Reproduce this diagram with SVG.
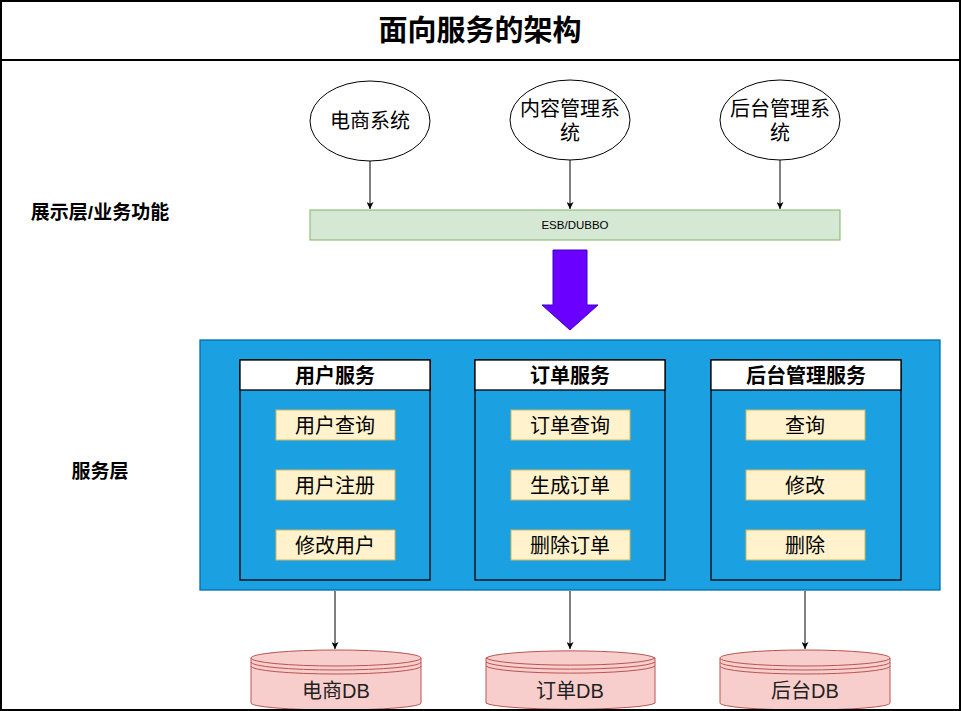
<svg xmlns="http://www.w3.org/2000/svg" width="961" height="711" viewBox="0 0 961 711">
<style>
text{font-family:"Liberation Sans","Noto Sans CJK SC",sans-serif;fill:#000;text-anchor:middle;dominant-baseline:central}
.b{font-weight:bold}
.ell{fill:#fff;stroke:#000;stroke-width:1}
.item{fill:#fff2cc;stroke:#d6b656;stroke-width:1}
.svc{fill:none;stroke:#000;stroke-width:1.3}
.hdr{fill:#fff;stroke:#000;stroke-width:1.3}
.db{fill:#f8cecc;stroke:#b85450;stroke-width:1}
.dbl{fill:none;stroke:#b85450;stroke-width:1}
.con{stroke:#000;stroke-width:1;fill:none;marker-end:url(#arr)}
.t20{font-size:20px}
</style>
<defs>
<marker id="arr" viewBox="0 0 10 10" refX="10" refY="5" markerWidth="7" markerHeight="7" markerUnits="userSpaceOnUse" orient="auto">
<path d="M0,0 L10,5 L0,10 L2.5,5 Z" fill="#000"/>
</marker>
</defs>
<rect x="0" y="0" width="961" height="711" fill="#fff"/>

<g id="frame">
<rect x="1" y="1" width="959" height="709" fill="none" stroke="#000" stroke-width="2"/>
<line x1="0" y1="60" x2="961" y2="60" stroke="#000" stroke-width="2"/>
<text x="480" y="31" class="b" style="font-size:29px">面向服务的架构</text>
</g>

<g id="label-display">
<text x="100" y="212" class="b" style="font-size:19px">展示层/业务功能</text>
</g>
<g id="label-service">
<text x="100" y="471" class="b" style="font-size:19px">服务层</text>
</g>

<g id="sys-ecommerce">
<ellipse cx="370" cy="121" rx="60" ry="40" class="ell"/>
<text x="370" y="121" class="t20">电商系统</text>
</g>
<g id="sys-cms">
<ellipse cx="570" cy="120" rx="60" ry="40" class="ell"/>
<text x="570" y="109" class="t20">内容管理系</text>
<text x="570" y="133" class="t20">统</text>
</g>
<g id="sys-admin">
<ellipse cx="780" cy="120" rx="60" ry="40" class="ell"/>
<text x="780" y="109" class="t20">后台管理系</text>
<text x="780" y="133" class="t20">统</text>
</g>

<g id="esb">
<rect x="310" y="210" width="530" height="30" fill="#d5e8d4" stroke="#82b366" stroke-width="1"/>
<text x="575" y="225" style="font-size:11.5px">ESB/DUBBO</text>
</g>

<g id="big-arrow">
<polygon points="553,250 587,250 587,305 598,305 570,330 542,305 553,305" fill="#6a00ff" stroke="#3700cc" stroke-width="1"/>
</g>

<g id="service-layer">
<rect x="200" y="340" width="740" height="250" fill="#1ba1e2" stroke="#006eaf" stroke-width="1.3"/>
</g>

<g id="svc-user">
<rect x="240" y="360" width="190" height="220" class="svc"/>
<rect x="240" y="360" width="190" height="30" class="hdr"/>
<text x="335" y="376" class="b t20">用户服务</text>
<rect x="276" y="410" width="119" height="30" class="item"/>
<text x="335" y="426" class="t20">用户查询</text>
<rect x="276" y="470" width="119" height="30" class="item"/>
<text x="335" y="486" class="t20">用户注册</text>
<rect x="276" y="530" width="119" height="30" class="item"/>
<text x="335" y="546" class="t20">修改用户</text>
</g>

<g id="svc-order">
<rect x="475" y="360" width="190" height="220" class="svc"/>
<rect x="475" y="360" width="190" height="30" class="hdr"/>
<text x="570" y="376" class="b t20">订单服务</text>
<rect x="511" y="410" width="119" height="30" class="item"/>
<text x="570" y="426" class="t20">订单查询</text>
<rect x="511" y="470" width="119" height="30" class="item"/>
<text x="570" y="486" class="t20">生成订单</text>
<rect x="511" y="530" width="119" height="30" class="item"/>
<text x="570" y="546" class="t20">删除订单</text>
</g>

<g id="svc-admin">
<rect x="711" y="360" width="190" height="220" class="svc"/>
<rect x="711" y="360" width="190" height="30" class="hdr"/>
<text x="806" y="376" class="b t20">后台管理服务</text>
<rect x="746" y="410" width="119" height="30" class="item"/>
<text x="805" y="426" class="t20">查询</text>
<rect x="746" y="470" width="119" height="30" class="item"/>
<text x="805" y="486" class="t20">修改</text>
<rect x="746" y="530" width="119" height="30" class="item"/>
<text x="805" y="546" class="t20">删除</text>
</g>

<g id="db-ecommerce">
<path d="M251,658 A85,8 0 0 1 421,658 L421,703 A85,7 0 0 1 251,703 Z" class="db"/>
<path d="M251,658 A85,8 0 0 0 421,658 M251,662 A85,8 0 0 0 421,662 M251,666 A85,8 0 0 0 421,666" class="dbl"/>
<text x="336" y="691" class="t20" style="fill:#222">电商DB</text>
</g>
<g id="db-order">
<path d="M486,658 A85,8 0 0 1 655,658 L655,703 A85,7 0 0 1 486,703 Z" class="db"/>
<path d="M486,658 A85,8 0 0 0 655,658 M486,662 A85,8 0 0 0 655,662 M486,666 A85,8 0 0 0 655,666" class="dbl"/>
<text x="570" y="691" class="t20" style="fill:#222">订单DB</text>
</g>
<g id="db-admin">
<path d="M720,658 A85,8 0 0 1 890,658 L890,703 A85,7 0 0 1 720,703 Z" class="db"/>
<path d="M720,658 A85,8 0 0 0 890,658 M720,662 A85,8 0 0 0 890,662 M720,666 A85,8 0 0 0 890,666" class="dbl"/>
<text x="805" y="691" class="t20" style="fill:#222">后台DB</text>
</g>

<g id="connectors">
<line x1="370" y1="161" x2="370" y2="209" class="con"/>
<line x1="570" y1="160" x2="570" y2="209" class="con"/>
<line x1="780" y1="160" x2="780" y2="209" class="con"/>
<line x1="335" y1="591" x2="335" y2="649" class="con"/>
<line x1="570" y1="591" x2="570" y2="649" class="con"/>
<line x1="805" y1="591" x2="805" y2="649" class="con"/>
</g>

<g id="frame-bottom">
<line x1="0" y1="710" x2="961" y2="710" stroke="#000" stroke-width="2"/>
</g>
</svg>
